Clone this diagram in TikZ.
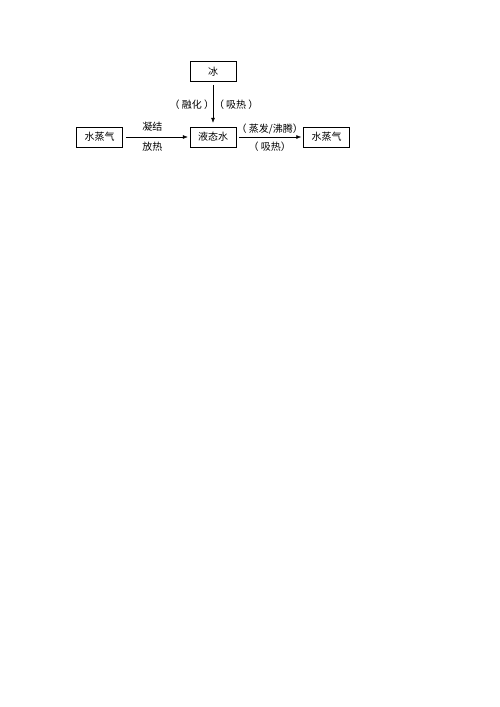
\documentclass[tikz,border=0pt]{standalone}
\usepackage{fontspec}
\setmainfont{Noto Sans CJK SC}
\usetikzlibrary{positioning,arrows.meta}
\tikzset{
  statebox/.style={rectangle,draw,line width=0.5pt,minimum width=46pt,minimum height=20pt,inner sep=1pt,font=\fontsize{10}{12}\selectfont},
  phasearrow/.style={-{Latex[length=5pt,width=4pt]},line width=0.5pt,shorten <=3pt,shorten >=2pt},
  note/.style={inner sep=1pt,font=\fontsize{10}{12}\selectfont}
}

\begin{document}
\begin{tikzpicture}[x=1pt,y=-1pt]
            \useasboundingbox (0,0) rectangle (500,707);
            \node[statebox] (liquid) at (213,137) {液态水};
            \node[statebox,above=45pt of liquid] (ice) {冰};
            \node[statebox,left=67pt of liquid] (vaporL) {水蒸气};
            \node[statebox,right=67pt of liquid] (vaporR) {水蒸气};
            \draw[phasearrow,shorten >=4pt] (ice) -- (liquid)
                node[note,midway,xshift=1pt] {（ 融化 ）（ 吸热 ）};
            \draw[phasearrow] (vaporL) -- (liquid)
                node[note,midway,above=4pt,xshift=-4pt] {凝结}
                node[note,midway,below=4pt,xshift=-4pt] {放热};
            \draw[phasearrow] (liquid) -- (vaporR)
                node[note,midway,above=1pt] {（ 蒸发/沸腾）}
                node[note,midway,below=4pt] {（ 吸热）};
        \end{tikzpicture}
\end{document}
